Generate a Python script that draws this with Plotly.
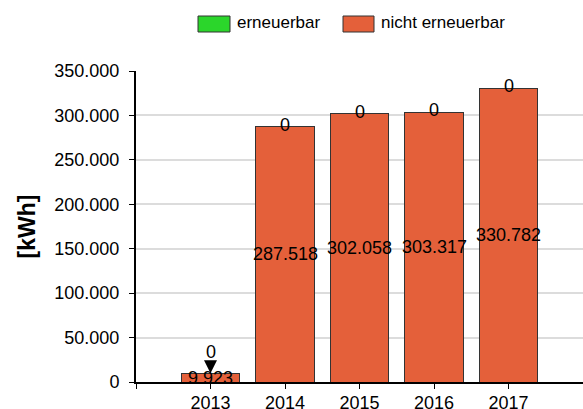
import plotly.graph_objects as go

years = ["2013", "2014", "2015", "2016", "2017"]
erneuerbar = [0, 0, 0, 0, 0]
nicht_erneuerbar = [9923, 287518, 302058, 303317, 330782]
series_names = ["erneuerbar", "nicht erneuerbar"]
y_ticks = [0, 50000, 100000, 150000, 200000, 250000, 300000, 350000]

C_GREEN = "#2BD62B"
C_ORANGE = "#E4603A"
FONT = "Liberation Sans, Arial, sans-serif"

W, H = 583, 409
L, R, T, B = 136, 0, 71, 27
PW, PH = W - L - R, H - T - B

def px(x):
    return (x - L) / PW

def py(y):
    return (H - B - y) / PH

def de(v):
    return f"{v:,}".replace(",", ".")

xs = list(range(len(years)))
fig = go.Figure()
fig.add_trace(go.Bar(x=xs, y=nicht_erneuerbar, name=series_names[1],
                     marker=dict(color=C_ORANGE, line=dict(color="#333333", width=1)),
                     width=0.79, showlegend=False))
fig.add_trace(go.Bar(x=xs, y=erneuerbar, name=series_names[0],
                     marker=dict(color=C_GREEN, line=dict(color="#333333", width=1)),
                     width=0.79, showlegend=False))

annotations = []
ymax = y_ticks[-1]
for i, (a, b) in enumerate(zip(erneuerbar, nicht_erneuerbar)):
    total = a + b
    # value label in middle of bar
    annotations.append(dict(x=i, y=b / 2, xref="x", yref="y", text=de(b), showarrow=False,
                            font=dict(family=FONT, size=18, color="black")))
    if total < ymax * 0.05:
        annotations.append(dict(x=i, y=total, xref="x", yref="y", text=de(a), showarrow=True,
                                ax=0, ay=-21, arrowhead=2, arrowsize=1.3, arrowwidth=2,
                                arrowcolor="black", standoff=0,
                                font=dict(family=FONT, size=18, color="black")))
    else:
        annotations.append(dict(x=i, y=total, xref="x", yref="y", text=de(a), showarrow=False,
                                yshift=2, font=dict(family=FONT, size=18, color="black")))

# y-axis title
annotations.append(dict(x=px(26), y=0.5, xref="paper", yref="paper", text="<b>[kWh]</b>",
                        textangle=-90, showarrow=False, xanchor="center", yanchor="middle",
                        font=dict(family=FONT, size=23, color="black")))

# custom legend
shapes = []
leg = [(series_names[0], C_GREEN, 198, 230), (series_names[1], C_ORANGE, 343, 374)]
for name, col, x0, x1 in leg:
    shapes.append(dict(type="rect", xref="paper", yref="paper", x0=px(x0), x1=px(x1),
                       y0=py(32), y1=py(16), fillcolor=col, line=dict(color="#333333", width=1)))
    annotations.append(dict(x=px(x1 + 5), y=py(23), xref="paper", yref="paper", text=name,
                            showarrow=False, xanchor="left", yanchor="middle",
                            font=dict(family=FONT, size=17, color="black")))

fig.update_layout(
    width=W, height=H,
    margin=dict(l=L, r=R, t=T, b=B, autoexpand=False),
    paper_bgcolor="white", plot_bgcolor="white",
    barmode="stack",
    showlegend=False,
    font=dict(family=FONT, size=18, color="black"),
    annotations=annotations,
    shapes=shapes,
    xaxis=dict(range=[-1, len(years)], tickmode="array",
               tickvals=list(range(-1, len(years) + 1)),
               ticktext=[""] + years + [""],
               showgrid=False, zeroline=False, showline=True, linecolor="black", linewidth=2,
               ticks="outside", ticklen=5, tickwidth=1, tickcolor="black",
               ticklabelstandoff=-2,
               tickfont=dict(family=FONT, size=18, color="black")),
    yaxis=dict(range=[0, ymax], tickmode="array", tickvals=y_ticks,
               ticktext=[de(v) for v in y_ticks],
               showgrid=True, gridcolor="#DCDCDC", gridwidth=2, zeroline=False,
               showline=True, linecolor="black", linewidth=2,
               ticks="outside", ticklen=5, tickwidth=1, tickcolor="black",
               ticklabelstandoff=6,
               tickfont=dict(family=FONT, size=18, color="black")),
)

fig.write_html("out.html", config={"displayModeBar": False, "staticPlot": True},
               post_script="document.body.style.margin='0';document.body.style.overflow='hidden';")
